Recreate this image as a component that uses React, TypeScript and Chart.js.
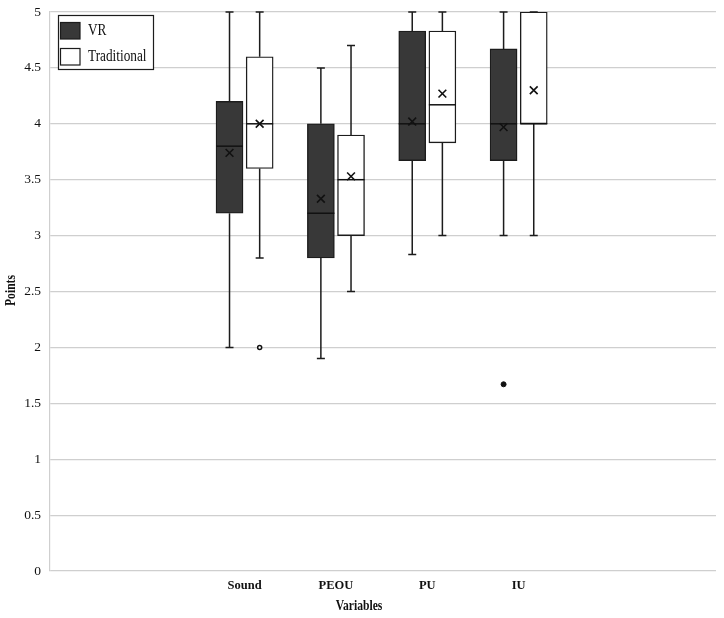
import React, { useEffect, useRef } from 'react';
import { Chart, registerables } from 'chart.js';

Chart.register(...registerables);

const categories = ['Sound', 'PEOU', 'PU', 'IU'];
const seriesNames = ['VR', 'Traditional'];
const yTickValues = [0, 0.5, 1, 1.5, 2, 2.5, 3, 3.5, 4, 4.5, 5];
const xTitle = 'Variables';
const yTitle = 'Points';

const vrMin = [2.0, 1.9, 2.83, 3.0];
const vrQ1 = [3.2, 2.8, 3.67, 3.67];
const vrMedian = [3.8, 3.2, 4.0, 4.0];
const vrQ3 = [4.2, 4.0, 4.83, 4.67];
const vrMax = [5.0, 4.5, 5.0, 5.0];
const vrMean = [3.74, 3.33, 4.02, 3.97];
const vrOutliers = [[], [], [], [1.67]];

const tradMin = [2.8, 2.5, 3.0, 3.0];
const tradQ1 = [3.6, 3.0, 3.83, 4.0];
const tradMedian = [4.0, 3.5, 4.17, 4.0];
const tradQ3 = [4.6, 3.9, 4.83, 5.0];
const tradMax = [5.0, 4.7, 5.0, 5.0];
const tradMean = [4.0, 3.53, 4.27, 4.3];
const tradOutliers = [[2.0], [], [], []];

const FONT = "'Liberation Serif', 'Times New Roman', serif";

function drawText(
  c: CanvasRenderingContext2D,
  text: string,
  x: number,
  y: number,
  font: string,
  align: CanvasTextAlign,
  squeeze: number,
  rotation = 0
) {
  c.save();
  c.translate(x, y);
  c.rotate(rotation);
  c.scale(squeeze, 1);
  c.font = font;
  c.textAlign = align;
  c.textBaseline = 'middle';
  c.fillText(text, 0, 0);
  c.restore();
}

export default function App() {
  const ref = useRef<HTMLCanvasElement>(null);

  useEffect(() => {
    const canvas = ref.current;
    if (!canvas) return;

    const boxStats = [
      { min: vrMin, q1: vrQ1, med: vrMedian, q3: vrQ3, max: vrMax },
      { min: tradMin, q1: tradQ1, med: tradMedian, q3: tradQ3, max: tradMax },
    ];
    const means = [vrMean, tradMean];
    const outliers = [vrOutliers, tradOutliers];
    const offsets = [-0.165, 0.165];
    const fills = ['#383838', '#ffffff'];
    const stroke = '#1c1c1c';

    const boxDatasets = boxStats.map((s, si) => ({
      type: 'bar',
      label: seriesNames[si],
      data: categories.map((_, i) => ({ x: i + 1 + offsets[si], y: [s.q1[i], s.q3[i]] })),
      backgroundColor: fills[si],
      borderColor: stroke,
      borderWidth: 1.4,
      borderSkipped: false,
      barThickness: 27,
      grouped: false,
      order: 1,
    }));

    const meanDatasets = means.map((m, si) => ({
      type: 'scatter',
      label: seriesNames[si] + ' mean',
      data: categories.map((_, i) => ({ x: i + 1 + offsets[si], y: m[i] })),
      pointStyle: 'crossRot',
      radius: 5.5,
      borderColor: '#111111',
      backgroundColor: 'rgba(0,0,0,0)',
      borderWidth: 1.6,
      order: 0,
    }));

    const outlierDatasets = outliers.map((o, si) => ({
      type: 'scatter',
      label: seriesNames[si] + ' outliers',
      data: o.flatMap((vals, i) => vals.map((v) => ({ x: i + 1 + offsets[si], y: v }))),
      pointStyle: 'circle',
      radius: si === 0 ? 2.5 : 2,
      backgroundColor: si === 0 ? '#111111' : '#ffffff',
      borderColor: '#111111',
      borderWidth: si === 0 ? 1 : 1.5,
      order: 0,
    }));

    const whiskerPlugin = {
      id: 'whiskers',
      afterDatasetDraw(chart: any, args: any) {
        const si = args.index;
        if (si > 1) return;
        const s = boxStats[si];
        const meta = chart.getDatasetMeta(si);
        const y = chart.scales.y;
        const c = chart.ctx;
        c.save();
        c.strokeStyle = stroke;
        c.lineWidth = 1.5;
        meta.data.forEach((el: any, i: number) => {
          const { x, width } = el.getProps(['x', 'width'], true);
          const yMax = y.getPixelForValue(s.max[i]);
          const yQ3 = y.getPixelForValue(s.q3[i]);
          const yQ1 = y.getPixelForValue(s.q1[i]);
          const yMin = y.getPixelForValue(s.min[i]);
          const yMed = y.getPixelForValue(s.med[i]);
          c.beginPath();
          c.moveTo(x, yQ3);
          c.lineTo(x, yMax);
          c.moveTo(x - 4, yMax);
          c.lineTo(x + 4, yMax);
          c.moveTo(x, yQ1);
          c.lineTo(x, yMin);
          c.moveTo(x - 4, yMin);
          c.lineTo(x + 4, yMin);
          c.stroke();
          c.beginPath();
          c.strokeStyle = '#111111';
          c.moveTo(x - width / 2, yMed);
          c.lineTo(x + width / 2, yMed);
          c.stroke();
          c.strokeStyle = stroke;
        });
        c.restore();
      },
    };

    const overlayPlugin = {
      id: 'overlay',
      afterDraw(chart: any) {
        const c = chart.ctx;
        const area = chart.chartArea;
        c.save();
        // axis titles
        c.fillStyle = '#111111';
        drawText(c, xTitle, 359, 606, `bold 14px ${FONT}`, 'center', 0.83);
        drawText(c, yTitle, 11, (area.top + area.bottom) / 2 - 1, `bold 14px ${FONT}`, 'center', 0.83, -Math.PI / 2);

        // legend
        const lx = 58.5, ly = 15.5, lw = 95, lh = 54;
        c.fillStyle = '#ffffff';
        c.fillRect(lx, ly, lw, lh);
        c.strokeStyle = '#1c1c1c';
        c.lineWidth = 1.2;
        c.strokeRect(lx, ly, lw, lh);
        const rows = [31, 57];
        seriesNames.forEach((name, si) => {
          const ry = rows[si];
          c.fillStyle = fills[si];
          c.fillRect(60.5, ry - 8.5, 19.5, 16.5);
          c.strokeStyle = '#1c1c1c';
          c.lineWidth = 1.2;
          c.strokeRect(60.5, ry - 8.5, 19.5, 16.5);
          c.fillStyle = '#111111';
          drawText(c, name, 88, ry, `16px ${FONT}`, 'left', 0.83);
        });
        c.restore();
      },
    };

    const chart = new Chart(canvas, {
      type: 'bar',
      data: {
        datasets: [...boxDatasets, ...meanDatasets, ...outlierDatasets] as any,
      },
      options: {
        animation: false,
        responsive: false,
        devicePixelRatio: 1,
        layout: { autoPadding: false, padding: { top: 12, right: 8, left: 0, bottom: 0 } },
        plugins: {
          legend: { display: false },
          tooltip: { enabled: false },
        },
        scales: {
          x: {
            type: 'linear',
            min: -1.13,
            max: 6.16,
            offset: false,
            afterBuildTicks: (scale: any) => {
              scale.ticks = categories.map((_, i) => ({ value: i + 1 }));
            },
            afterFit: (scale: any) => {
              scale.height = 47;
              scale.paddingLeft = 0;
              scale.paddingRight = 0;
            },
            ticks: {
              autoSkip: false,
              maxRotation: 0,
              padding: 7,
              color: '#111111',
              font: { family: FONT, size: 12.5, weight: 'bold' },
              callback: (v: any) => categories[Math.round(Number(v)) - 1] ?? '',
            },
            grid: { display: false, drawTicks: false },
            border: { display: false },
          },
          y: {
            type: 'linear',
            min: 0,
            max: 5,
            afterBuildTicks: (scale: any) => {
              scale.ticks = yTickValues.map((v) => ({ value: v }));
            },
            afterFit: (scale: any) => {
              scale.width = 50;
              scale.paddingTop = 0;
              scale.paddingBottom = 0;
            },
            ticks: {
              padding: 9,
              color: '#111111',
              font: { family: FONT, size: 13.5 },
              callback: (v: any) => String(v),
            },
            grid: { color: '#cfcfcf', lineWidth: 1.2, drawTicks: false },
            border: { display: true, color: '#cfcfcf', width: 1.2 },
          },
        },
      } as any,
      plugins: [whiskerPlugin, overlayPlugin],
    });

    return () => chart.destroy();
  }, []);

  return (
    <div style={{ position: 'fixed', left: 0, top: 0, width: 724, height: 618, background: '#ffffff' }}>
      <canvas ref={ref} width={724} height={618} />
    </div>
  );
}
